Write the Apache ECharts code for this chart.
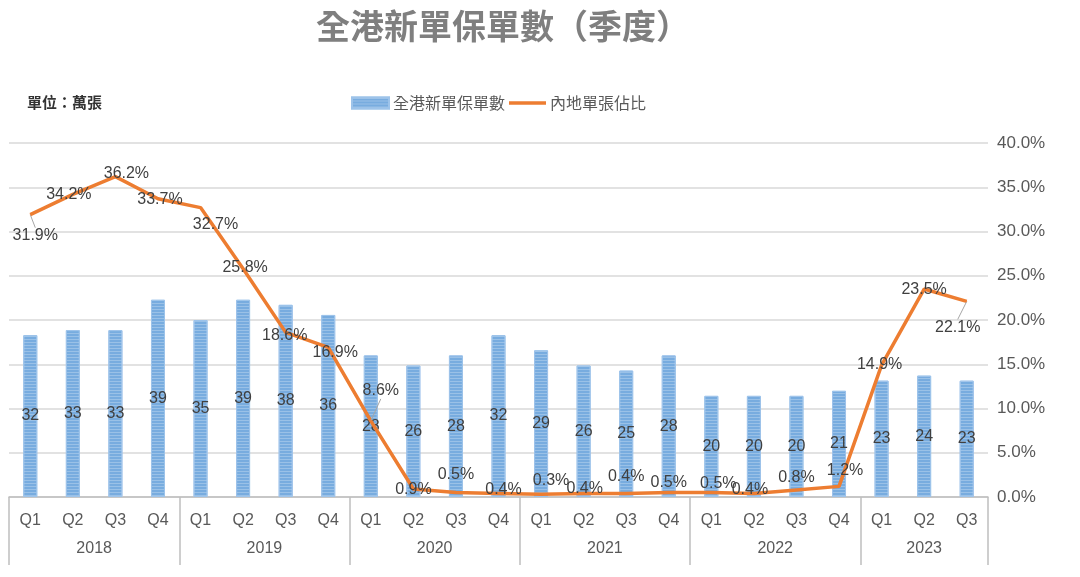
<!DOCTYPE html>
<html>
<head>
<meta charset="utf-8">
<script src="https://cdn.jsdelivr.net/npm/echarts@6/dist/echarts.min.js"></script>
<style>html,body{margin:0;padding:0;background:#fff;}#c{width:1080px;height:577px;}</style>
</head>
<body>
<div id="c"></div>
<script>
const quarters = ['Q1','Q2','Q3','Q4','Q1','Q2','Q3','Q4','Q1','Q2','Q3','Q4','Q1','Q2','Q3','Q4','Q1','Q2','Q3','Q4','Q1','Q2','Q3'];
const years = ['2018','2019','2020','2021','2022','2023'];
const yearSizes = [4,4,4,4,4,3];
const policies = [32,33,33,39,35,39,38,36,28,26,28,32,29,26,25,28,20,20,20,21,23,24,23];
const mainlandShare = [31.9,34.2,36.2,33.7,32.7,25.8,18.6,16.9,8.6,0.9,0.5,0.4,0.3,0.4,0.4,0.5,0.5,0.4,0.8,1.2,14.9,23.5,22.1];

// label placement (style only)
const labelOffsets = [[5,21],[-4,0],[11,-3],[2,1],[15,17],[2,-1],[-1,3],[7,5],[10,-30],[0,1],[0,-18],[5,-4],[10,-14],[1,-5],[0,-17],[0,-10],[7,-9],[-4,-4],[0,-12],[6,-16],[-2,-1],[0,1],[-9,26]];
const leaderIdx = [0,8,22];

// half-step axis for year group labels and separators
const n = quarters.length;
const halfSlots = [];
for (let i = 0; i <= 2*n; i++) halfSlots.push('s'+i);
const boundarySet = new Set([0]);
const centerMap = {};
let start = 0;
yearSizes.forEach((sz, k) => {
  const center = start + (sz-1)/2;
  centerMap[Math.round((center+0.5)*2)] = years[k];
  start += sz;
  boundarySet.add(start*2);
});

const chart = echarts.init(document.getElementById('c'));
const FONT = 'Noto Sans CJK TC, Noto Sans, sans-serif';
const LAT = 'Liberation Sans, Arial, sans-serif';
chart.setOption({
  animation: false,
  textStyle: {fontFamily: FONT},
  title: [{
    text: '全港新單保單數（季度）',
    left: 311, top: 4,
    textStyle: {fontSize: 34, fontWeight: 'bold', color: '#7f7f7f', fontFamily: FONT}
  },{
    text: '單位：萬張',
    left: 22, top: 90,
    textStyle: {fontSize: 15, fontWeight: 'bold', color: '#333', fontFamily: FONT}
  }],
  legend: {
    left: 346, top: 90, itemWidth: 37, itemHeight: 11, itemGap: 4,
    textStyle: {fontSize: 16, color: '#595959', fontFamily: FONT, padding: [0,0,0,-1]},
    data: [{name: '全港新單保單數', icon: 'rect'}, {name: '內地單張佔比', icon: 'path://M0,0h40v4h-40z'}]
  },
  grid: {left: 9, right: 92, top: 143, bottom: 80},
  xAxis: [{
    type: 'category', data: quarters, position: 'bottom',
    axisLine: {lineStyle: {color: '#bfbfbf', width: 1.5}},
    axisTick: {show: false},
    axisLabel: {color: '#595959', fontSize: 16, margin: 16, interval: 0, fontFamily: LAT}
  },{
    type: 'category', data: halfSlots, position: 'bottom', boundaryGap: false,
    axisLine: {show: false},
    axisTick: {show: true, length: 68, interval: (i) => boundarySet.has(i), lineStyle: {color: '#bfbfbf', width: 1.5}},
    axisLabel: {color: '#595959', fontSize: 16, margin: 44, interval: (i) => centerMap[i] !== undefined,
      formatter: (v, i) => centerMap[i] || '', fontFamily: LAT},
    splitLine: {show: false}
  }],
  yAxis: [{
    type: 'value', min: 0, max: 70, show: false, splitLine: {show: false}
  },{
    type: 'value', min: 0, max: 40, interval: 5, position: 'right',
    axisLine: {show: false}, axisTick: {show: false},
    axisLabel: {color: '#595959', fontSize: 17, margin: 9, formatter: (v) => v.toFixed(1) + '%', fontFamily: LAT},
    splitLine: {show: true, lineStyle: {color: '#d9d9d9', width: 1.5}}
  }],
  series: [{
    name: '全港新單保單數', type: 'bar', xAxisIndex: 0, yAxisIndex: 0,
    data: policies, barWidth: 14,
    itemStyle: {
      color: '#78ACDF', borderColor: '#9dc3ea', borderWidth: 1,
      decal: {symbol: 'rect', dashArrayX: [1, 0], dashArrayY: [1, 2], rotation: 0, color: 'rgba(255,255,255,0.25)', symbolSize: 1}
    },
    label: {show: true, position: 'inside', color: '#404040', fontSize: 16, fontFamily: LAT},
    z: 2
  },{
    name: '內地單張佔比', type: 'line', xAxisIndex: 0, yAxisIndex: 1,
    data: mainlandShare.map((v, i) => ({
      value: v,
      labelLine: {show: leaderIdx.includes(i)}
    })),
    symbol: 'circle', symbolSize: 1, showSymbol: true,
    lineStyle: {color: '#ED7D31', width: 3.5},
    itemStyle: {color: '#ED7D31'},
    label: {show: true, position: 'inside', color: '#404040', fontSize: 16,
      formatter: (p) => p.value.toFixed(1) + '%', fontFamily: LAT},
    labelLayout: (p) => ({dx: labelOffsets[p.dataIndex][0], dy: labelOffsets[p.dataIndex][1]}),
    labelLine: {show: false, lineStyle: {color: '#a6a6a6', width: 1}},
    z: 3
  }]
});
</script>
</body>
</html>
